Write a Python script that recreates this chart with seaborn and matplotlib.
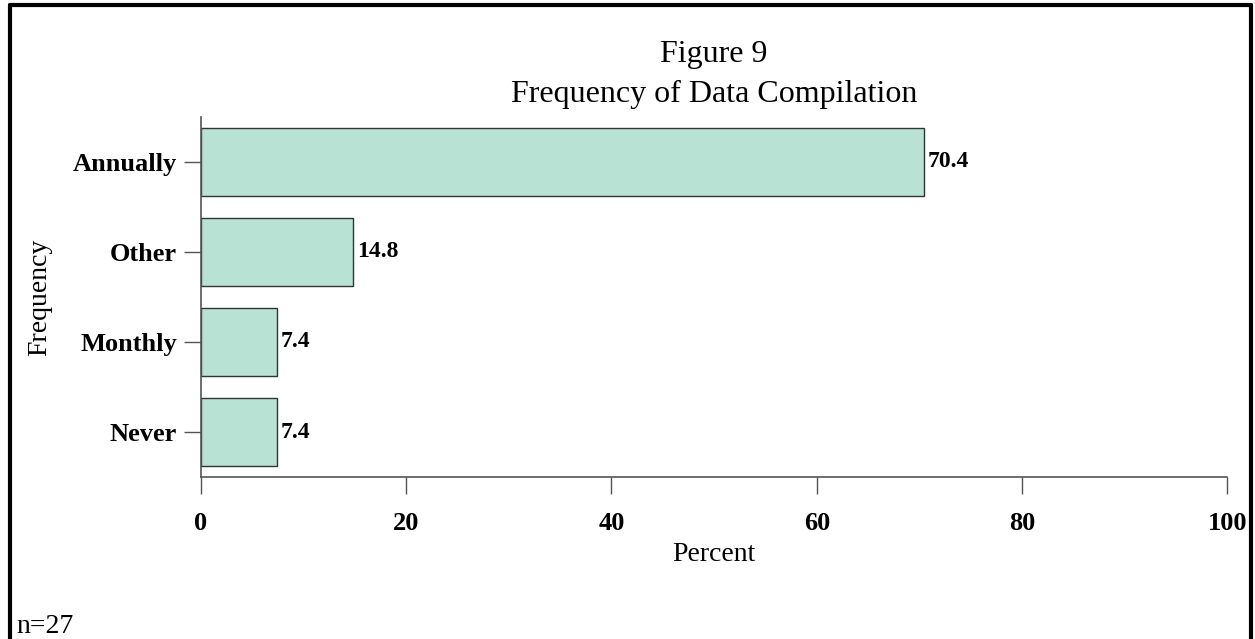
import matplotlib
matplotlib.use('Agg')
import matplotlib.pyplot as plt
import pandas as pd
import seaborn as sns

categories = ["Annually", "Other", "Monthly", "Never"]
percents = [70.4, 14.8, 7.4, 7.4]
xticks = [0, 20, 40, 60, 80, 100]

df = pd.DataFrame({"Frequency": categories, "Percent": percents})

sns.set_style("white")
plt.rcParams['font.family'] = ['Liberation Serif', 'DejaVu Serif']
plt.rcParams['text.color'] = 'black'
plt.rcParams['axes.labelcolor'] = 'black'
plt.rcParams['xtick.color'] = 'black'
plt.rcParams['ytick.color'] = 'black'

fig = plt.figure(figsize=(12.55, 6.39), dpi=100)
ax = fig.add_axes([0.160, 0.2535, 0.818, 0.5635])

sns.barplot(data=df, x="Percent", y="Frequency", order=categories,
            color="#b8e2d4", saturation=1, width=0.75,
            edgecolor="#333333", linewidth=1, ax=ax)

ax.set_xlim(0, 100)
ax.set_ylim(3.5, -0.5)
ax.set_xticks(xticks)
ax.set_xticklabels([str(t) for t in xticks])
ax.tick_params(axis='both', direction='out', length=12, width=1,
               color='#555555', labelsize=19, bottom=True, left=True)
ax.tick_params(axis='x', pad=13)
ax.tick_params(axis='y', pad=5)
for lbl in ax.get_xticklabels() + ax.get_yticklabels():
    lbl.set_fontweight('bold')

for s in ['top', 'right']:
    ax.spines[s].set_visible(False)
for s in ['left', 'bottom']:
    ax.spines[s].set_color('#555555')
    ax.spines[s].set_linewidth(1.2)

for p, v in zip(ax.patches, percents):
    ax.text(p.get_width() + 0.4, p.get_y() + p.get_height() / 2, f"{v:.1f}",
            va='center', ha='left', fontsize=17, fontweight='bold')

ax.set_xlabel("Percent", fontsize=20, labelpad=5)
ax.set_ylabel("Frequency", fontsize=20, labelpad=15)

# two-line title, centred over the plot area
cx = 0.160 + 0.818 / 2
fig.text(cx, 1 - 62 / 639, "Figure 9", fontsize=23, ha='center', va='baseline')
fig.text(cx, 1 - 102 / 639, "Frequency of Data Compilation", fontsize=23,
         ha='center', va='baseline')

fig.text(0.013, 1 - 633 / 639, "n=27", fontsize=20, ha='left', va='baseline')

# frame around the figure (no bottom edge visible in the original)
fig.add_artist(plt.Line2D([0.008, 0.008], [0.0, 0.992], transform=fig.transFigure, color='black', lw=3))
fig.add_artist(plt.Line2D([0.008, 0.997], [0.992, 0.992], transform=fig.transFigure, color='black', lw=3))
fig.add_artist(plt.Line2D([0.997, 0.997], [0.0, 0.992], transform=fig.transFigure, color='black', lw=3))

fig.savefig("out.png", dpi=100)
